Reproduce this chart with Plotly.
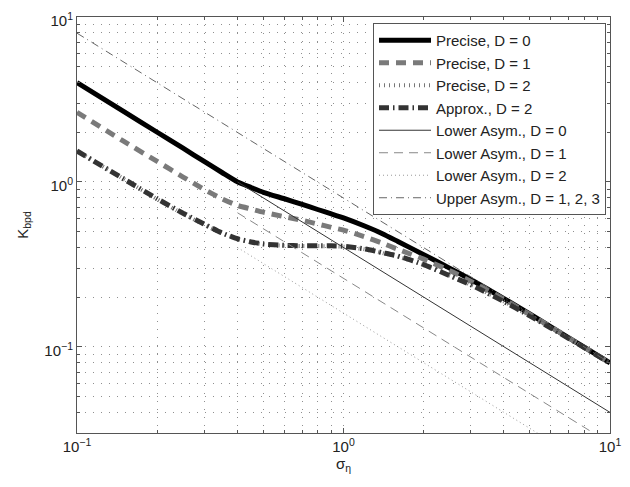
import plotly.graph_objects as go

# ---- data ----
sigma = [0.1, 0.15, 0.2, 0.25, 0.3, 0.35, 0.4, 0.45, 0.5, 0.6, 0.7, 0.8, 0.9, 1.0,
         1.2, 1.4, 1.6, 2.0, 2.5, 3.0, 4.0, 5.0, 6.0, 8.0, 10.0]

precise_d0 = [4.0, 2.67, 2.0, 1.6, 1.33, 1.14, 1.0, 0.925, 0.865, 0.79, 0.73, 0.68, 0.64, 0.605,
              0.54, 0.485, 0.435, 0.362, 0.30, 0.256, 0.196, 0.158, 0.132, 0.0995, 0.0798]
precise_d1 = [2.64, 1.76, 1.33, 1.07, 0.90, 0.79, 0.72, 0.685, 0.655, 0.615, 0.585, 0.555, 0.53, 0.51,
              0.465, 0.425, 0.39, 0.34, 0.29, 0.25, 0.194, 0.157, 0.132, 0.0993, 0.0797]
precise_d2 = [1.54, 1.04, 0.785, 0.64, 0.55, 0.488, 0.45, 0.43, 0.418, 0.41, 0.408, 0.408, 0.407, 0.404,
              0.39, 0.37, 0.352, 0.313, 0.27, 0.238, 0.188, 0.154, 0.13, 0.099, 0.0795]
approx_d2 = [1.54, 1.04, 0.79, 0.645, 0.555, 0.49, 0.452, 0.432, 0.42, 0.412, 0.41, 0.41, 0.41, 0.407,
             0.392, 0.372, 0.355, 0.315, 0.27, 0.238, 0.188, 0.154, 0.13, 0.099, 0.0795]

lower_x = [0.4, 10.0]
lower_d0 = [1.0, 0.04]
lower_d1 = [0.65, 0.026]
lower_d2 = [0.4, 0.016]
upper_x = [0.1, 10.0]
upper_d = [7.98, 0.0798]

x_tickvals = [0.1, 1, 10]
x_ticktext = ["10<sup>−1</sup>", "10<sup>0</sup>", "10<sup>1</sup>"]
y_tickvals = [0.1, 1, 10]
y_ticktext = ["10<sup>−1</sup>", "10<sup>0</sup>", "10<sup>1</sup>"]

names = ["Precise, D = 0", "Precise, D = 1", "Precise, D = 2", "Approx., D = 2",
         "Lower Asym., D = 0", "Lower Asym., D = 1", "Lower Asym., D = 2",
         "Upper Asym., D = 1, 2, 3"]

FONT = "Liberation Sans, Arial, sans-serif"

fig = go.Figure()
fig.add_trace(go.Scatter(x=sigma, y=precise_d0, mode="lines", name=names[0],
                         line=dict(color="black", width=5, shape="spline", smoothing=0.5)))
fig.add_trace(go.Scatter(x=sigma, y=precise_d1, mode="lines", name=names[1],
                         line=dict(color="#7a7a7a", width=5, dash="10px,7px", shape="spline", smoothing=0.5)))
fig.add_trace(go.Scatter(x=sigma, y=precise_d2, mode="lines", name=names[2],
                         line=dict(color="#777777", width=4, dash="1px,4px", shape="spline", smoothing=0.5)))
fig.add_trace(go.Scatter(x=sigma, y=approx_d2, mode="lines", name=names[3],
                         line=dict(color="#333333", width=5, dash="10px,4px,1.5px,4px", shape="spline", smoothing=0.5)))
fig.add_trace(go.Scatter(x=lower_x, y=lower_d0, mode="lines", name=names[4],
                         line=dict(color="#333333", width=1)))
fig.add_trace(go.Scatter(x=lower_x, y=lower_d1, mode="lines", name=names[5],
                         line=dict(color="#888888", width=1, dash="9px,6px")))
fig.add_trace(go.Scatter(x=lower_x, y=lower_d2, mode="lines", name=names[6],
                         line=dict(color="#999999", width=1, dash="1px,3px")))
fig.add_trace(go.Scatter(x=upper_x, y=upper_d, mode="lines", name=names[7],
                         line=dict(color="#666666", width=1, dash="8px,4px,1px,4px")))

axis_common = dict(
    type="log", automargin=False, ticklabeloverflow="allow",
    showline=True, linecolor="#555555", linewidth=1, mirror="ticks",
    ticks="inside", ticklen=5, tickcolor="#555555",
    showgrid=True, gridcolor="#8f8f8f", gridwidth=1, griddash="1px,7px",
    zeroline=False,
    tickfont=dict(family=FONT, size=15, color="#222222"),
    minor=dict(dtick="D1", ticks="inside", ticklen=3, tickcolor="#555555",
               showgrid=True, gridcolor="#8f8f8f", gridwidth=1, griddash="1px,7px"),
)

fig.update_xaxes(**axis_common, range=[-1, 1], tickmode="array",
                 tickvals=x_tickvals, ticktext=x_ticktext,
                 title=dict(text="σ<sub>η</sub>", standoff=4,
                            font=dict(family=FONT, size=15, color="#222222")))
fig.update_yaxes(**axis_common, range=[-1.523, 1], tickmode="array",
                 tickvals=y_tickvals, ticktext=y_ticktext, ticklabelshift=4,
                 title=dict(text="K<sub>bpd</sub>", standoff=12,
                            font=dict(family=FONT, size=15, color="#222222")))

# the page adds an 8px body margin, so the figure is drawn 8px smaller / shifted
fig.update_layout(
    width=622, height=479,
    margin=dict(l=69, r=20, t=9, b=54, autoexpand=False),
    plot_bgcolor="white", paper_bgcolor="white",
    font=dict(family=FONT, size=15, color="#222222"),
    legend=dict(x=0.9925, xanchor="right", y=0.9856, yanchor="top",
                bgcolor="white", bordercolor="#555555", borderwidth=1,
                font=dict(family=FONT, size=15, color="#222222"), itemwidth=52,
                tracegroupgap=0),
    showlegend=True,
)

fig.write_html("out.html")
